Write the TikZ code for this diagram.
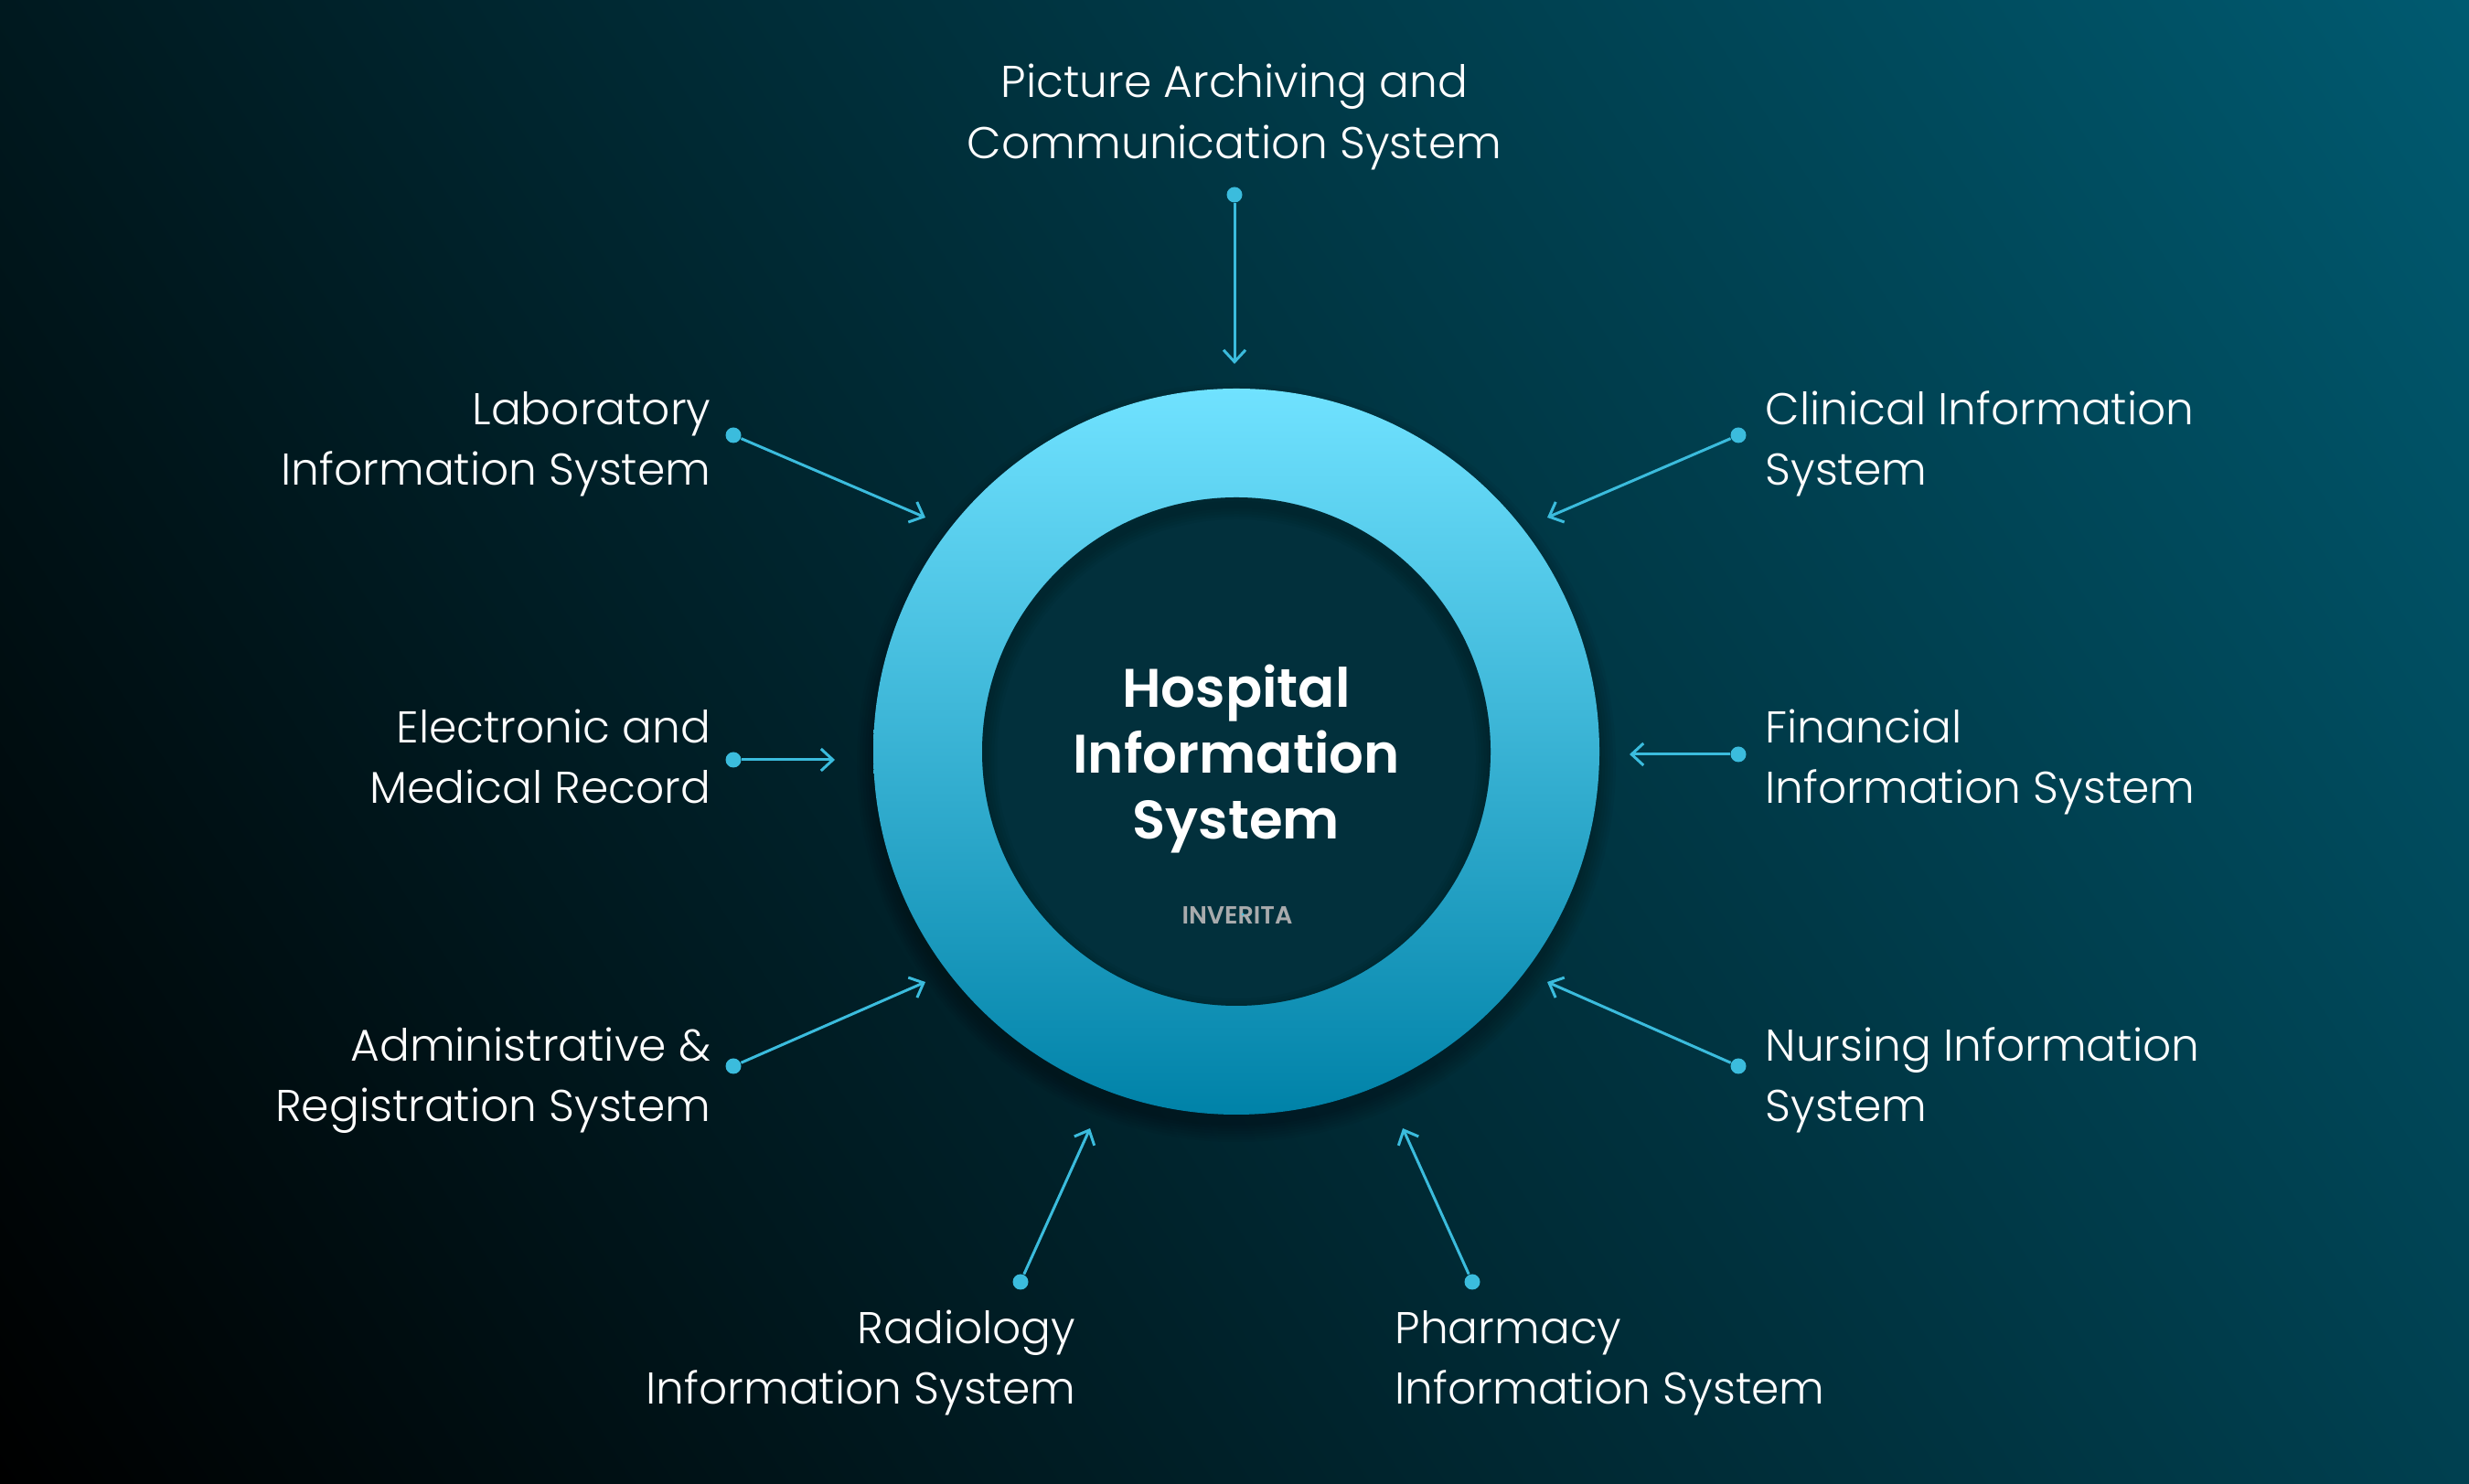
\documentclass[tikz,border=0pt]{standalone}
\usepackage{fontspec}
\setmainfont{Poppins Light}
\newfontfamily\titlefont{Poppins SemiBold}
\newfontfamily\brandfont{Poppins SemiBold}
\usetikzlibrary{arrows.meta,shadings}
\definecolor{linkblue}{HTML}{3BBCDD}
\definecolor{brandgrey}{HTML}{A9ABAD}
\definecolor{bgul}{HTML}{00191F}
\definecolor{bgur}{HTML}{005A70}
\definecolor{bglr}{HTML}{004050}
\definecolor{ringtop}{HTML}{70E2FF}
\definecolor{ringbot}{HTML}{0082A8}
\definecolor{hole}{HTML}{02303C}
\tikzset{
	dot/.style={circle, fill=linkblue, inner sep=0pt, minimum size=0.17cm},
	link/.style={line width=0.03cm, color=linkblue, -{Straight Barb[length=0.13cm, width=0.24cm]}},
	labelr/.style={anchor=east, align=right, text=white, inner sep=0pt, font=\fontsize{13.85}{18.8}\selectfont},
	labell/.style={anchor=west, align=left, text=white, inner sep=0pt, font=\fontsize{13.85}{18.8}\selectfont},
	labelc/.style={align=center, text=white, inner sep=0pt, font=\fontsize{13.85}{18.8}\selectfont},
}

\begin{document}
\begin{tikzpicture}
	\useasboundingbox (0, 0) rectangle (27, 16.23);
	%%%%% BACKGROUND %%%%%
	\shade[lower left=black, upper left=bgul, lower right=bglr, upper right=bgur] (0, 0) rectangle (27, 16.23);

	%%%%% RING %%%%%
	\foreach \r in {0, 0.03, 0.06, 0.09, 0.12, 0.15, 0.18}
		\fill[color=black, opacity=0.04] (13.52, 7.89) circle (3.97 + \r);
	\shade[top color=ringtop, bottom color=ringbot] (13.52, 8.01) circle (3.97);
	\fill[color=hole] (13.52, 8.01) circle (2.78);
	\begin{scope}
		\clip (13.52, 8.01) circle (2.78);
		\foreach \w in {0.08, 0.14, 0.2, 0.26, 0.32}
			\draw[line width=\w cm, color=black, opacity=0.04] (13.52, 7.93) circle (2.78);
	\end{scope}

	\node[align=center, text=white, inner sep=0pt, font=\titlefont\fontsize{16.9}{20.6}\selectfont] (his) at (13.52, 7.93) {Hospital\\Information\\System};
	\node[text=brandgrey, inner sep=0pt, font=\brandfont\fontsize{7.7}{8}\selectfont] (brand) at (13.53, 6.22) {INVERITA};
	\node[circle, fill=linkblue, inner sep=0pt, minimum size=0.03cm] (brandmark) at (13.59, 6.23) {};

	%%%%% LABELS %%%%%
	\node[labelc] (pacs) at (13.5, 14.95) {Picture Archiving and\\Communication System};
	\node[labelr] (lab) at (7.78, 11.375) {Laboratory\\Information System};
	\node[labelr] (emr) at (7.78, 7.955) {Electronic and\\Medical Record};
	\node[labelr] (admin) at (7.78, 4.415) {Administrative \&\\Registration System};
	\node[labelr] (radio) at (11.77, 1.325) {Radiology\\Information System};
	\node[labell] (pharm) at (15.25, 1.32) {Pharmacy\\Information System};
	\node[labell] (nurs) at (19.3, 4.415) {Nursing Information\\System};
	\node[labell] (fin) at (19.3, 7.895) {Financial\\Information System};
	\node[labell] (clin) at (19.3, 11.375) {Clinical Information\\System};

	%%%%% LINKS %%%%%
	\node[dot] (dpacs) at (13.5, 14.1) {};
	\coordinate (tpacs) at (13.5, 12.25);
	\draw[link] (dpacs) -- (tpacs);
	\node[dot] (dlab) at (8.02, 11.47) {};
	\coordinate (tlab) at (10.12, 10.57);
	\draw[link] (dlab) -- (tlab);
	\node[dot] (demr) at (8.02, 7.92) {};
	\coordinate (temr) at (9.13, 7.92);
	\draw[link] (demr) -- (temr);
	\node[dot] (dadmin) at (8.02, 4.57) {};
	\coordinate (tadmin) at (10.12, 5.49);
	\draw[link] (dadmin) -- (tadmin);
	\node[dot] (dradio) at (11.16, 2.21) {};
	\coordinate (tradio) at (11.92, 3.89);
	\draw[link] (dradio) -- (tradio);
	\node[dot] (dpharm) at (16.1, 2.21) {};
	\coordinate (tpharm) at (15.34, 3.89);
	\draw[link] (dpharm) -- (tpharm);
	\node[dot] (dnurs) at (19.01, 4.57) {};
	\coordinate (tnurs) at (16.92, 5.49);
	\draw[link] (dnurs) -- (tnurs);
	\node[dot] (dfin) at (19.01, 7.98) {};
	\coordinate (tfin) at (17.82, 7.98);
	\draw[link] (dfin) -- (tfin);
	\node[dot] (dclin) at (19.01, 11.47) {};
	\coordinate (tclin) at (16.92, 10.57);
	\draw[link] (dclin) -- (tclin);
\end{tikzpicture}
\end{document}
